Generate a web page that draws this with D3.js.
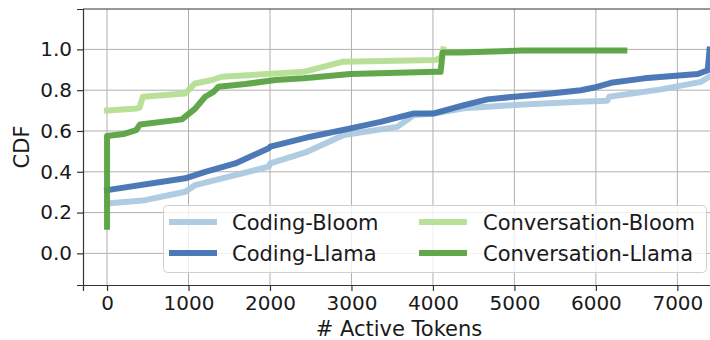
<!DOCTYPE html>
<html>
<head>
<meta charset="utf-8">
<script src="https://cdn.jsdelivr.net/npm/d3@7"></script>
<style>
  body { margin: 0; background: #fff; }
  svg { display: block; font-family: "DejaVu Sans", sans-serif; }
</style>
</head>
<body>
<div id="chart"></div>
<script>
// CDF curves, [active tokens, cdf]
const codingBloom = [
    [0, 0.245], [467, 0.261], [960, 0.302], [1082, 0.335], [1574, 0.384], [1984, 0.425],
    [2004, 0.441], [2455, 0.498], [2906, 0.58], [3562, 0.62], [3766, 0.678], [4012, 0.686],
    [4381, 0.711], [4668, 0.719], [4996, 0.727], [5799, 0.743], [6140, 0.748], [6164, 0.768],
    [6800, 0.804], [7291, 0.841], [7390, 0.866]
];
const codingLlama = [
    [0, 0.31], [960, 0.368], [1205, 0.40], [1574, 0.441], [1984, 0.515], [2004, 0.523],
    [2496, 0.572], [2988, 0.613], [3357, 0.645], [3766, 0.686], [4012, 0.686], [4381, 0.727],
    [4668, 0.755], [4996, 0.768], [5447, 0.784], [5816, 0.80], [5980, 0.813], [6185, 0.836],
    [6594, 0.858], [7250, 0.879], [7373, 0.898], [7395, 1.0]
];
const convBloom = [
    [0, 0.70], [365, 0.71], [400, 0.715], [440, 0.768], [960, 0.784], [1080, 0.833],
    [1290, 0.85], [1410, 0.866], [2066, 0.882], [2414, 0.89], [2886, 0.939], [4033, 0.948],
    [4100, 0.96], [4125, 1.0]
];
const convLlama = [
    [0, 0.13], [0, 0.575], [200, 0.585], [357, 0.604], [405, 0.632], [918, 0.657], [1082, 0.71],
    [1205, 0.768], [1307, 0.792], [1369, 0.817], [1697, 0.83], [2066, 0.85], [2414, 0.858],
    [2988, 0.879], [4033, 0.89], [4094, 0.89], [4120, 0.985], [4340, 0.985], [5099, 0.994],
    [6349, 0.994]
];

const seriesNames = ["Coding-Bloom", "Coding-Llama", "Conversation-Bloom", "Conversation-Llama"];
const seriesData = [codingBloom, codingLlama, convBloom, convLlama];
const seriesColors = ["#a9c8e0", "#3e6fb0", "#b3dd8f", "#56a03d"];

const xTicks = [0, 1000, 2000, 3000, 4000, 5000, 6000, 7000];
const yTicks = [0.0, 0.2, 0.4, 0.6, 0.8, 1.0];

const w = 710, h = 340;
const margin = { top: 9, right: -2, bottom: 55, left: 83 };
const width = w - margin.left - margin.right,
    height = h - margin.top - margin.bottom;

const svg = d3.select("#chart").append("svg")
    .attr("width", w).attr("height", h);

const g = svg.append("g")
    .attr("transform", `translate(${margin.left},${margin.top})`);

const x = d3.scaleLinear().domain([-295, 7425]).range([0, width]);
const y = d3.scaleLinear().domain([-0.155, 1.198]).range([height, 0]);

// grid
g.append("g").selectAll("line").data(xTicks).enter().append("line")
    .attr("x1", d => x(d)).attr("x2", d => x(d))
    .attr("y1", 0).attr("y2", height)
    .attr("stroke", "#b0b0b0").attr("stroke-width", 1);
g.append("g").selectAll("line").data(yTicks).enter().append("line")
    .attr("y1", d => y(d)).attr("y2", d => y(d))
    .attr("x1", 0).attr("x2", width)
    .attr("stroke", "#b0b0b0").attr("stroke-width", 1);

// curves
const line = d3.line().x(d => x(d[0])).y(d => y(d[1]));
g.append("g").selectAll("path").data(seriesData).enter().append("path")
    .attr("d", line)
    .attr("fill", "none")
    .attr("stroke", (d, i) => seriesColors[i])
    .attr("stroke-width", 6)
    .attr("stroke-opacity", 0.92)
    .attr("stroke-linejoin", "round")
    .attr("stroke-linecap", "square");

// axes
const xAxis = g.append("g")
    .attr("transform", `translate(0,${height})`)
    .call(d3.axisBottom(x).tickValues(xTicks).tickFormat(d3.format("d")).tickSize(6).tickPadding(5));
const yAxis = g.append("g")
    .call(d3.axisLeft(y).tickValues(yTicks).tickFormat(d3.format(".1f")).tickSize(6).tickPadding(5));

[xAxis, yAxis].forEach(a => {
    a.select(".domain").attr("stroke", "#333").attr("stroke-width", 1.2);
    a.selectAll(".tick line").attr("stroke", "#333").attr("stroke-width", 1.2);
    a.selectAll(".tick text").attr("font-size", "20px").attr("fill", "#1a1a1a")
        .attr("font-family", "DejaVu Sans");
});

// top spine
g.append("line")
    .attr("x1", 0).attr("x2", width).attr("y1", 0).attr("y2", 0)
    .attr("stroke", "#333").attr("stroke-width", 1.2);

// axis labels
svg.append("text")
    .attr("x", 399).attr("y", 336)
    .attr("text-anchor", "middle")
    .attr("font-size", "21px").attr("fill", "#1a1a1a")
    .text("# Active Tokens");
svg.append("text")
    .attr("transform", "translate(29,147) rotate(-90)")
    .attr("text-anchor", "middle")
    .attr("font-size", "21px").attr("fill", "#1a1a1a")
    .text("CDF");

// legend
const legend = svg.append("g");
legend.append("rect")
    .attr("x", 163.5).attr("y", 205.5).attr("width", 543).attr("height", 67)
    .attr("rx", 4)
    .attr("fill", "#fff").attr("fill-opacity", 0.8)
    .attr("stroke", "#d0d0d0").attr("stroke-width", 1);

const legPos = [[169, 222], [169, 253], [419, 222], [419, 253]];
const items = legend.selectAll(".item").data(seriesNames).enter().append("g")
    .attr("transform", (d, i) => `translate(${legPos[i][0]},${legPos[i][1]})`);
items.append("line")
    .attr("x1", 0).attr("x2", 48).attr("y1", 0).attr("y2", 0)
    .attr("stroke", (d, i) => seriesColors[i])
    .attr("stroke-width", 6).attr("stroke-opacity", 0.92);
items.append("text")
    .attr("x", (d, i) => i < 2 ? 63 : 64)
    .attr("y", 7.5)
    .attr("font-size", "21px").attr("fill", "#1a1a1a")
    .text(d => d);
</script>
</body>
</html>
